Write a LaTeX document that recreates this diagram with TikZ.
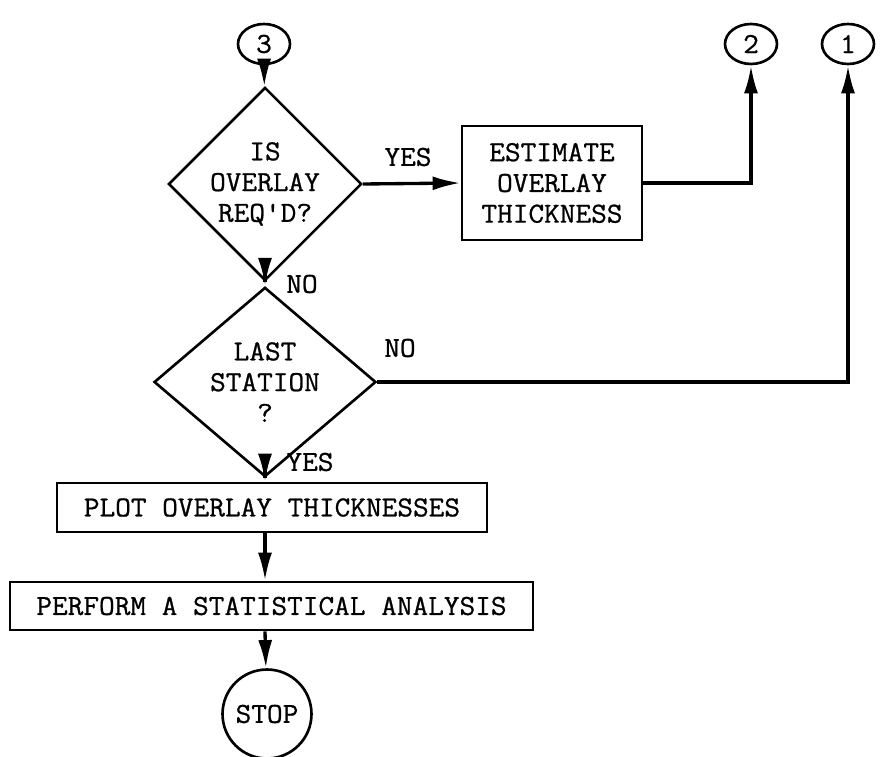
\documentclass[tikz,border=0pt]{standalone}
\usepackage{fontspec}
\setmonofont{Latin Modern Mono}[FakeStretch=1.05,FakeBold=0.8]
\usetikzlibrary{arrows.meta,shapes.geometric,positioning}

\tikzstyle{txt} = [font=\ttfamily\fontsize{16.5}{17.5}\selectfont,align=center]
\tikzstyle{connector} = [txt,draw,ellipse,line width=1.5pt,inner sep=0pt,minimum width=1.04cm,minimum height=0.8cm]
\tikzstyle{decision} = [txt,draw,diamond,line width=1.5pt,inner sep=0pt]
\tikzstyle{process} = [txt,draw,rectangle,line width=1.5pt,inner sep=0pt]
\tikzstyle{flow} = [draw,line width=1.9pt,-{Latex[length=16pt,width=8pt]}]
\tikzstyle{answer} = [txt,inner sep=0pt]

\begin{document}
\begin{tikzpicture}[x=0.02cm,y=-0.02cm]
	\useasboundingbox (0,0) rectangle (883,757);

	\node[connector] (c3) at (264,44) {3};
	\node[connector] (c2) at (751,44) {2};
	\node[connector] (c1) at (848,44) {1};

	\node[decision,minimum width=3.8cm,minimum height=3.36cm] (req) at (265,184)
	{IS\\OVERLAY\\REQ'D?};
	\node[process,minimum width=3.6cm,minimum height=2.28cm] (est) at (552,183)
	{ESTIMATE\\OVERLAY\\THICKNESS};
	\node[decision,minimum width=4.44cm,minimum height=3cm] (last) at (265,382)
	{LAST\\STATION\\?};
	\node[process,minimum width=8.6cm,minimum height=0.98cm] (plot) at (272,507.5)
	{PLOT OVERLAY THICKNESSES};
	\node[process,minimum width=10.46cm,minimum height=0.96cm] (perf) at (271.5,606)
	{PERFORM A STATISTICAL ANALYSIS};
	\node[draw,circle,txt,line width=1.5pt,minimum size=1.78cm,inner sep=0pt] (stop) at (267,714) {STOP};

	% main line down the left
	\path[flow] (c3) -- (req);
	\path[flow] (req) -- (last);
	\path[flow] (last.south) -- (last.south |- plot.north);
	\path[flow] (last.south |- plot.south) -- (last.south |- perf.north);
	\path[flow] (last.south |- perf.south) -- (stop);

	% branches to the off-page connectors
	\path[flow] (req.east) -- (est.west);
	\path[flow] (est.east) -| (c2.south);
	\path[flow] (last.east) -| (c1.south);

	\node[answer] (yes1) at (408,157) {YES};
	\node[answer] (no1) at (302,284) {NO};
	\node[answer] (no2) at (400,348) {NO};
	\node[answer] (yes2) at (310,462) {YES};
\end{tikzpicture}
\end{document}
